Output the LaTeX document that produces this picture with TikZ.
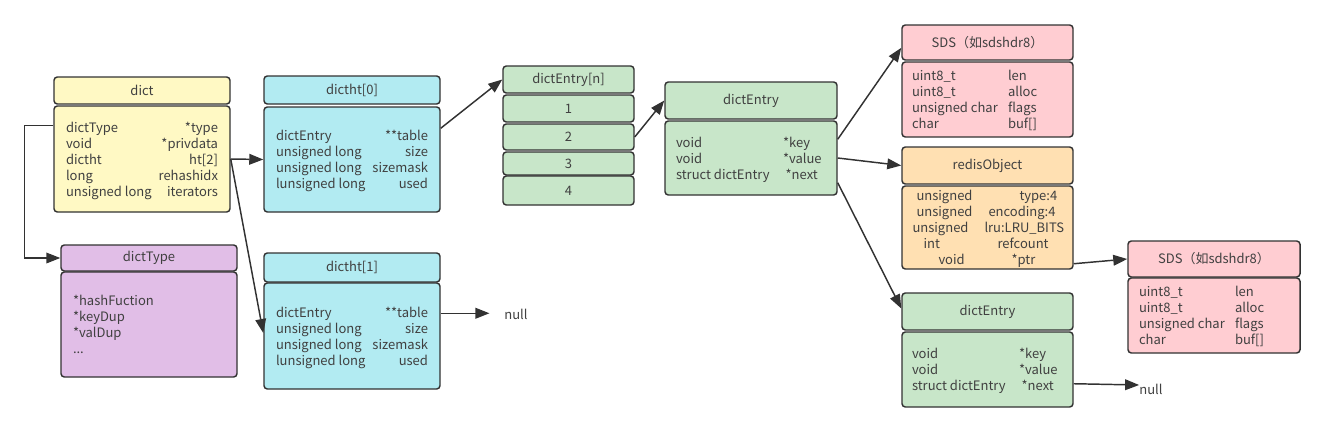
\documentclass[tikz,border=0pt]{standalone}
\usepackage{fontspec}
\setmainfont{Noto Sans CJK SC}
\usepackage{tikz}
\usetikzlibrary{arrows.meta}
\definecolor{dictyellow}{RGB}{255,249,196}
\definecolor{typepurple}{RGB}{225,190,231}
\definecolor{htcyan}{RGB}{178,235,242}
\definecolor{entrygreen}{RGB}{200,230,201}
\definecolor{sdspink}{RGB}{255,205,210}
\definecolor{objorange}{RGB}{255,224,178}
\definecolor{linegray}{RGB}{50,50,50}
\definecolor{textgray}{RGB}{64,64,64}
\newcommand\boxfont{\fontsize{9.75}{12}\selectfont}
\newcommand\shiftdown[1]{\raisebox{-1.5pt}[\height][\depth]{#1}}
\renewcommand\arraystretch{1}

\begin{document}
\begin{tikzpicture}[x=0.75pt, y=-0.75pt,
    box/.style={draw=linegray, line width=1.1pt, rounded corners=2.5pt, inner sep=0pt,
        text=textgray, font=\boxfont},
    arr/.style={draw=linegray, line width=1.1pt, -{Triangle[length=10.5pt, width=8pt]}},
    lbl/.style={text=textgray, font=\boxfont, inner sep=0pt}]
    \useasboundingbox (0,0) rectangle (1324,432);

    % dict
    \node[box, fill=dictyellow, minimum width=132pt, minimum height=20.25pt] (dict-h) at (142,90.5) {dict};
    \node[box, fill=dictyellow, minimum width=132pt, minimum height=79.5pt] (dict-b) at (142,159) {\shiftdown{%
        \begin{tabular*}{114pt}{@{}l@{\extracolsep{\fill}}r@{}}
        dictType & *type\\
        void & *privdata\\
        dictht & ht[2]\\
        long & rehashidx\\
        unsigned long & iterators
        \end{tabular*}}};

    % dictType
    \node[box, fill=typepurple, minimum width=132pt, minimum height=19.5pt] (dictType-h) at (149,258) {dictType};
    \node[box, fill=typepurple, minimum width=132pt, minimum height=78.75pt] (dictType-b) at (149,324.5) {\shiftdown{%
        \begin{tabular}{@{}p{114pt}@{}}
        *hashFuction\\ {}*keyDup\\ {}*valDup\\ {}...
        \end{tabular}}};

    % dictht[0] and dictht[1]
    \node[box, fill=htcyan, minimum width=132pt, minimum height=21pt] (dictht0-h) at (352,90) {dictht[0]};
    \node[box, fill=htcyan, minimum width=132pt, minimum height=78.75pt] (dictht0-b) at (352,159.5) {\shiftdown{%
        \begin{tabular*}{114pt}{@{}l@{\extracolsep{\fill}}r@{}}
        dictEntry & **table\\
        unsigned long & size\\
        unsigned long & sizemask\\
        lunsigned long & used
        \end{tabular*}}};
    \node[box, fill=htcyan, minimum width=132pt, minimum height=21.75pt] (dictht1-h) at (352,267.5) {dictht[1]};
    \node[box, fill=htcyan, minimum width=132pt, minimum height=79.5pt] (dictht1-b) at (352,336) {\shiftdown{%
        \begin{tabular*}{114pt}{@{}l@{\extracolsep{\fill}}r@{}}
        dictEntry & **table\\
        unsigned long & size\\
        unsigned long & sizemask\\
        lunsigned long & used
        \end{tabular*}}};
    \node[lbl] (null1) at (516,314) {null};

    % bucket array
    \node[box, fill=entrygreen, minimum width=98.25pt, minimum height=20.25pt] (bucket-h) at (568.5,79.5) {dictEntry[n]};
    \node[box, fill=entrygreen, minimum width=98.25pt, minimum height=20.25pt] (bucket1) at (568.5,108.5) {1};
    \node[box, fill=entrygreen, minimum width=98.25pt, minimum height=19.5pt] (bucket2) at (568.5,137) {2};
    \node[box, fill=entrygreen, minimum width=98.25pt, minimum height=17.25pt] (bucket3) at (568.5,163.5) {3};
    \node[box, fill=entrygreen, minimum width=98.25pt, minimum height=21.75pt] (bucket4) at (568.5,190.5) {4};

    % dictEntry
    \node[box, fill=entrygreen, minimum width=129pt, minimum height=27.75pt] (entry-h) at (751,100.5) {dictEntry};
    \node[box, fill=entrygreen, minimum width=129pt, minimum height=55.5pt] (entry-b) at (751,158) {\shiftdown{%
        \begin{tabular}{@{}p{80.25pt}@{}p{32.25pt}@{}}
        void & *key\\
        void & *value\\
        struct dictEntry & \hspace*{2pt}*next
        \end{tabular}}};

    % key: SDS
    \node[box, fill=sdspink, minimum width=128.25pt, minimum height=26.25pt] (keysds-h) at (987.5,42.5) {SDS（如sdshdr8）};
    \node[box, fill=sdspink, minimum width=128.25pt, minimum height=56.25pt] (keysds-b) at (987.5,99.5) {\shiftdown{%
        \begin{tabular}{@{}p{72pt}@{}p{41.25pt}@{}}
        uint8\_t & len\\
        uint8\_t & alloc\\
        unsigned char & flags\\
        char & buf[]
        \end{tabular}}};

    % value: redisObject
    \node[box, fill=objorange, minimum width=128.25pt, minimum height=27.75pt] (robj-h) at (987.5,165.5) {redisObject};
    \node[box, fill=objorange, minimum width=128.25pt, minimum height=62.25pt] (robj-b) at (987.5,227.5) {\shiftdown{%
        \begin{tabular}{@{}p{54pt}@{}p{58.5pt}@{}}
        \hspace*{3pt}unsigned & \hspace*{26.25pt}type:4\\
        \hspace*{3pt}unsigned & \hspace*{3pt}encoding:4\\
        unsigned & lru:LRU\_BITS\\
        \hspace*{8.25pt}int & \hspace*{9.75pt}refcount\\
        \hspace*{19.5pt}void & \hspace*{20.25pt}*ptr
        \end{tabular}}};

    % ptr: SDS
    \node[box, fill=sdspink, minimum width=129pt, minimum height=27pt] (valsds-h) at (1214,259) {SDS（如sdshdr8）};
    \node[box, fill=sdspink, minimum width=129pt, minimum height=56.25pt] (valsds-b) at (1214,315.5) {\shiftdown{%
        \begin{tabular}{@{}p{72pt}@{}p{40.5pt}@{}}
        uint8\_t & len\\
        uint8\_t & alloc\\
        unsigned char & flags\\
        char & buf[]
        \end{tabular}}};

    % next: dictEntry
    \node[box, fill=entrygreen, minimum width=128.25pt, minimum height=27.75pt] (next-h) at (987.5,311.5) {dictEntry};
    \node[box, fill=entrygreen, minimum width=128.25pt, minimum height=56.25pt] (next-b) at (987.5,369.5) {\shiftdown{%
        \begin{tabular}{@{}p{80.25pt}@{}p{33pt}@{}}
        void & *key\\
        void & *value\\
        struct dictEntry & \hspace*{2pt}*next
        \end{tabular}}};
    \node[lbl] (null2) at (1151,389) {null};

    % Connectors
    \draw[arr] ([yshift=-15pt]dict-b.north west) -- ++(-29,0) |- (dictType-h.west);
    \draw[arr] (dict-b.east) -- (dictht0-b.west);
    \draw[arr] (dict-b.east) -- ([yshift=2.25pt]dictht1-b.west);
    \draw[arr] ([yshift=-16.5pt]dictht0-b.north east) -- (bucket-h.west);
    \draw[arr, shorten >=11pt] ([yshift=-23.25pt]dictht1-b.north east) coordinate (t1)
        -- (t1 -| null1.west);
    \draw[arr] (bucket2.east) -- (entry-h.west);
    \draw[arr] ([yshift=-14.25pt]entry-b.north east) -- ([yshift=-4pt]keysds-h.west);
    \draw[arr] (entry-b.east) -- (robj-h.west);
    \draw[arr] ([yshift=9.75pt]entry-b.south east) -- ([yshift=2.25pt]next-h.west);
    \draw[arr] ([yshift=4.5pt]robj-b.south east) -- (valsds-h.west);
    \draw[arr] ([yshift=18pt]next-b.south east) -- ([yshift=3pt]null2.west);
\end{tikzpicture}
\end{document}
